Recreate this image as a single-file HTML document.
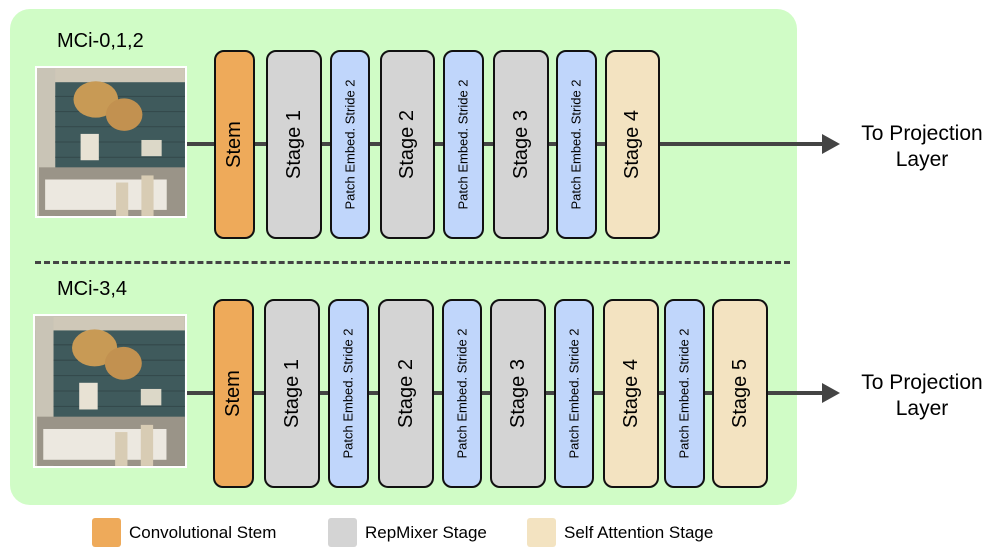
<!DOCTYPE html>
<html><head><meta charset="utf-8"><style>
body{margin:0;width:996px;height:555px;background:#fff;font-family:"Liberation Sans",Arial,sans-serif;position:relative;overflow:hidden}
.panel{position:absolute;left:10px;top:9px;width:787px;height:496px;background:#d0fcc6;border-radius:20px}
.b{position:absolute;box-sizing:border-box;border:2.5px solid #111;border-radius:10px;display:flex;align-items:center;justify-content:center}
.b span{transform:rotate(-90deg);white-space:nowrap;color:#000}
.o{background:#eeaa5a}.g{background:#d4d4d4}.p{background:#c0d6fb}.s{background:#f3e3c1}
.big span{font-size:20px}.sm span{font-size:13px}
.t{position:absolute;font-size:20px;color:#000}
.line{position:absolute;height:4px;background:#444}
</style></head><body>
<div class="panel"></div>
<div class="t" style="left:57px;top:30px">MCi-0,1,2</div>
<div class="t" style="left:57px;top:278px">MCi-3,4</div>
<div style="position:absolute;left:35px;top:261px;width:755px;border-top:3px dashed #444"></div>

<svg width="0" height="0" style="position:absolute"><defs>
<symbol id="img" viewBox="0 0 150 150">
<rect width="150" height="150" fill="#fff"/>
<rect x="2" y="2" width="146" height="146" fill="#3f5a5c"/>
<rect x="2" y="2" width="146" height="14" fill="#cfc8b8"/>
<rect x="2" y="2" width="18" height="146" fill="#c9c4b6"/>
<g stroke="#33484a" stroke-width="1"><line x1="20" y1="30" x2="148" y2="30"/><line x1="20" y1="45" x2="148" y2="45"/><line x1="20" y1="60" x2="148" y2="60"/><line x1="20" y1="75" x2="148" y2="75"/><line x1="20" y1="90" x2="148" y2="90"/><line x1="20" y1="105" x2="148" y2="105"/></g>
<ellipse cx="60" cy="33" rx="22" ry="18" fill="#c89a55"/>
<ellipse cx="88" cy="48" rx="18" ry="16" fill="#c29150"/>
<rect x="45" y="67" width="18" height="26" fill="#e8e2d4"/>
<rect x="105" y="73" width="20" height="16" fill="#dcd8c8"/>
<rect x="4" y="100" width="144" height="48" fill="#9a9488"/>
<rect x="10" y="112" width="120" height="30" fill="#ece8e0"/>
<rect x="105" y="108" width="12" height="40" fill="#d8ccb4"/>
<rect x="80" y="115" width="12" height="33" fill="#d8ccb4"/>
</symbol></defs></svg>
<svg style="position:absolute;left:35px;top:66px" width="152" height="152"><use href="#img" width="152" height="152"/></svg>
<svg style="position:absolute;left:33px;top:314px" width="154" height="154"><use href="#img" width="154" height="154"/></svg>

<!-- top row -->
<div class="line" style="left:187px;top:142px;width:640px"></div>
<svg style="position:absolute;left:822px;top:134px" width="20" height="20"><polygon points="0,0 18,10 0,20" fill="#444"/></svg>
<div class="b o big" style="left:214px;top:50px;width:41px;height:189px"><span>Stem</span></div>
<div class="b g big" style="left:266px;top:50px;width:56px;height:189px"><span>Stage 1</span></div>
<div class="b p sm" style="left:330px;top:50px;width:40px;height:189px"><span>Patch Embed. Stride 2</span></div>
<div class="b g big" style="left:380px;top:50px;width:55px;height:189px"><span>Stage 2</span></div>
<div class="b p sm" style="left:443px;top:50px;width:41px;height:189px"><span>Patch Embed. Stride 2</span></div>
<div class="b g big" style="left:493px;top:50px;width:56px;height:189px"><span>Stage 3</span></div>
<div class="b p sm" style="left:556px;top:50px;width:41px;height:189px"><span>Patch Embed. Stride 2</span></div>
<div class="b s big" style="left:605px;top:50px;width:55px;height:189px"><span>Stage 4</span></div>
<div class="t" style="left:850px;top:121px;width:144px;text-align:center;line-height:26px;font-size:21px">To Projection<br>Layer</div>

<!-- bottom row -->
<div class="line" style="left:187px;top:391px;width:640px"></div>
<svg style="position:absolute;left:822px;top:383px" width="20" height="20"><polygon points="0,0 18,10 0,20" fill="#444"/></svg>
<div class="b o big" style="left:213px;top:299px;width:41px;height:189px"><span>Stem</span></div>
<div class="b g big" style="left:264px;top:299px;width:56px;height:189px"><span>Stage 1</span></div>
<div class="b p sm" style="left:328px;top:299px;width:41px;height:189px"><span>Patch Embed. Stride 2</span></div>
<div class="b g big" style="left:378px;top:299px;width:56px;height:189px"><span>Stage 2</span></div>
<div class="b p sm" style="left:442px;top:299px;width:40px;height:189px"><span>Patch Embed. Stride 2</span></div>
<div class="b g big" style="left:490px;top:299px;width:56px;height:189px"><span>Stage 3</span></div>
<div class="b p sm" style="left:554px;top:299px;width:40px;height:189px"><span>Patch Embed. Stride 2</span></div>
<div class="b s big" style="left:603px;top:299px;width:56px;height:189px"><span>Stage 4</span></div>
<div class="b p sm" style="left:664px;top:299px;width:41px;height:189px"><span>Patch Embed. Stride 2</span></div>
<div class="b s big" style="left:712px;top:299px;width:56px;height:189px"><span>Stage 5</span></div>
<div class="t" style="left:850px;top:370px;width:144px;text-align:center;line-height:26px;font-size:21px">To Projection<br>Layer</div>

<!-- legend -->
<div style="position:absolute;left:92px;top:518px;width:29px;height:29px;background:#eeaa5a;border-radius:3px"></div>
<div style="position:absolute;left:129px;top:523px;font-size:17px">Convolutional Stem</div>
<div style="position:absolute;left:328px;top:518px;width:29px;height:29px;background:#d4d4d4;border-radius:3px"></div>
<div style="position:absolute;left:365px;top:523px;font-size:17px">RepMixer Stage</div>
<div style="position:absolute;left:527px;top:518px;width:29px;height:29px;background:#f3e3c1;border-radius:3px"></div>
<div style="position:absolute;left:564px;top:523px;font-size:17px">Self Attention Stage</div>
</body></html>
